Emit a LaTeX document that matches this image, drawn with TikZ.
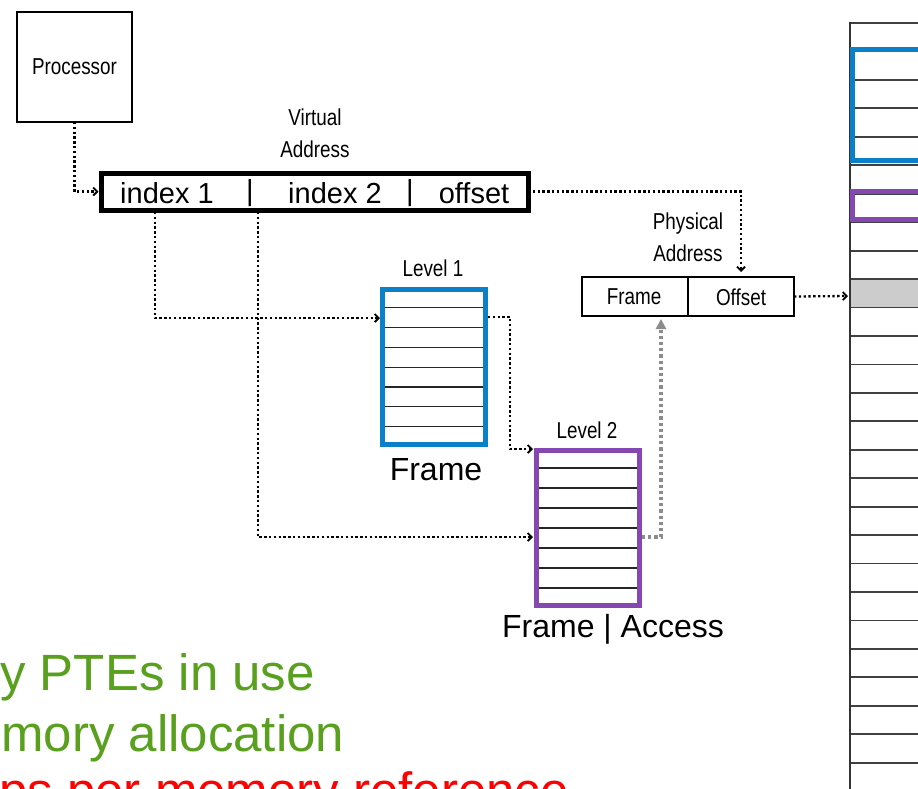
\documentclass[tikz,border=0pt]{standalone}
\usepackage{fontspec}
\setmainfont{Liberation Sans}
\newfontfamily\narrowfont[FakeStretch=0.82]{Liberation Sans}
\usetikzlibrary{arrows.meta}
\definecolor{tblblue}{RGB}{10,128,200}
\definecolor{tblpurple}{RGB}{132,72,176}
\definecolor{txtgreen}{RGB}{88,160,30}

\begin{document}
\begin{tikzpicture}[x=1pt,y=-1pt,
  lbl/.style={font=\narrowfont\fontsize{23}{32}\selectfont,align=center,inner sep=0pt},
  big/.style={font=\fontsize{29}{34}\selectfont,inner sep=0pt},
  huge/.style={font=\fontsize{32}{36}\selectfont,inner sep=0pt},
  note/.style={font=\fontsize{51}{60}\selectfont,inner sep=0pt,anchor=base west},
  plain/.style={draw,line width=1.8pt,inner sep=0pt,outer sep=0pt},
  tbl/.style={draw,line width=5pt,inner sep=0pt,outer sep=0pt,minimum width=103pt,minimum height=155pt},
  row/.style={line width=1.3pt,black!85},
  memrow/.style={line width=1.8pt,black!75},
  dotline/.style={line width=2.3pt,dash pattern=on 2.3pt off 2.5pt,-{Straight Barb[length=4pt,width=8pt,line width=1.8pt]}},
  greyline/.style={black!45,line width=3.2pt,dash pattern=on 3.2pt off 3pt,-{Triangle[length=10pt,width=10pt]}}]
\useasboundingbox (0,0) rectangle (918,788);
\clip (0,0) rectangle (918,788);

% processor and virtual address
\node[plain,minimum width=115pt,minimum height=110pt,lbl] (proc) at (74.5,67) {Processor};
\node[lbl] (vlbl) at (315,133) {Virtual\\Address};
\node[draw,line width=5pt,inner sep=0pt,outer sep=0pt,minimum width=427pt,minimum height=37pt] (vaddr) at (314.5,191.5) {};
\node[big] (idx1) at (167,193) {index 1};
\node[big] (sep1) at (250,193) {|};
\node[big] (idx2) at (335,193) {index 2};
\node[big] (sep2) at (410,193) {|};
\node[big] (offs) at (474,193) {offset};

% physical address
\node[lbl] (plbl) at (688,237) {Physical\\Address};
\node[plain,minimum width=212pt,minimum height=39pt] (paddr) at (688,296.5) {};
\draw[line width=1.8pt] (paddr.north) -- (paddr.south);
\node[lbl] (pfrmtxt) at (634,297) {Frame};
\node[lbl] (pofftxt) at (741,297) {Offset};

% level 1 table
\node[lbl] (l1lbl) at (433,268) {Level 1};
\foreach \k in {1,...,7}
  \draw[row] (385,{288+19.8*\k}) -- (483,{288+19.8*\k});
\node[tbl,draw=tblblue] (lvl1) at (434,367) {};
\node[huge] (l1frm) at (436,470) {Frame};

% level 2 table
\node[lbl] (l2lbl) at (587,430) {Level 2};
\foreach \k in {1,...,7}
  \draw[row] (538,{448+20*\k}) -- (637,{448+20*\k});
\node[tbl,draw=tblpurple] (lvl2) at (587.5,528) {};
\node[huge] (l2frm) at (613,629) {Frame | Access};

% physical memory
\fill[gray!40] (850,279.5) rectangle (930,307.5);
\foreach \k in {0,...,27}
  \draw[memrow] (850,{23+28.45*\k}) -- (930,{23+28.45*\k});
\draw[line width=2.5pt,black!80] (850,22) -- (850,800);
\draw[tblblue,line width=5pt] (852.5,49.5) rectangle (930,160.5);
\draw[tblpurple,line width=4.5pt] (852.5,191.5) rectangle (930,219.5);

% connectors
\coordinate (i1) at (155,212);
\coordinate (i2) at (258,212);
\coordinate (l1in) at (380,318);
\coordinate (l1out) at (488,317);
\coordinate (l2in) at (533,449);
\coordinate (l2mid) at (533,537);
\coordinate (l2out) at (642,537);
\coordinate (pfrm) at (661,319);
\coordinate (poff) at (741,272);
\coordinate (mem) at (848,296);
\draw[dotline,shorten >=2.5pt] (proc.south) |- (vaddr.west);
\draw[dotline] (vaddr.east) -| (poff);
\draw[dotline] (i1) |- (l1in);
\draw[dotline] (l1out) -- ++(22,0) |- (l2in);
\draw[dotline] (i2) |- (l2mid);
\draw[greyline] (l2out) -| (pfrm);
\draw[dotline] (paddr.east) -- (mem);

% notes
\node[note,txtgreen] (n1) at (0,690) {y PTEs in use};
\node[note,txtgreen] (n2) at (1,751) {mory allocation};
\node[note,red] (n3) at (-1,808) {ps per memory reference};
\end{tikzpicture}
\end{document}
